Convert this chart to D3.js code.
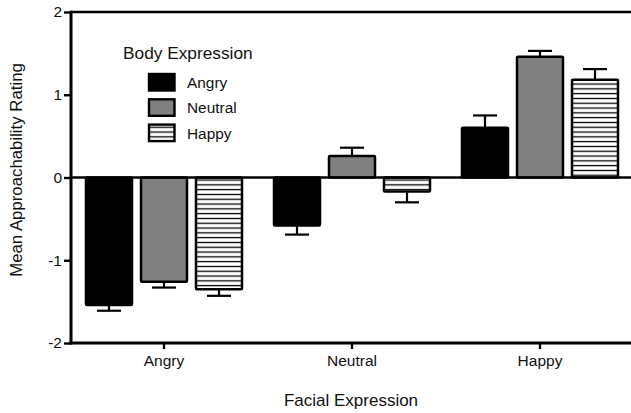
<!DOCTYPE html>
<html><head><meta charset="utf-8">
<script src="https://cdn.jsdelivr.net/npm/d3@7"></script>
<style>body{margin:0;background:#fff}svg{display:block;font-family:"Liberation Sans",Arial,sans-serif}</style>
</head><body><svg id="c" width="631" height="413"></svg>
<script>
const categories = ["Angry", "Neutral", "Happy"];
const series = ["Angry", "Neutral", "Happy"];
const angryBody = [-1.54, -0.58, 0.60];
const neutralBody = [-1.26, 0.26, 1.46];
const happyBody = [-1.35, -0.17, 1.18];
const angryErr = [0.07, 0.11, 0.15];
const neutralErr = [0.07, 0.10, 0.07];
const happyErr = [0.08, 0.13, 0.13];
const yTicks = [-2, -1, 0, 1, 2];

(function () {
const values = [angryBody, neutralBody, happyBody];
const errs = [angryErr, neutralErr, happyErr];
const fills = ["#000", "#808080", "url(#stripes)"];
const FONT = "Liberation Sans, Arial, sans-serif";
const TXT = "#111";

const svg = d3.select("#c");
const defs = svg.append("defs");
const pat = defs.append("pattern").attr("id", "stripes").attr("patternUnits", "userSpaceOnUse")
  .attr("width", 10).attr("height", 4.8);
pat.append("rect").attr("width", 10).attr("height", 4.8).attr("fill", "#fff");
pat.append("rect").attr("y", 1.8).attr("width", 10).attr("height", 1.3).attr("fill", "#000");

const mLeft = 71, mRight = 634, mTop = 12, mBottom = 343;
const x0 = d3.scaleBand().domain(categories).range([70, 634]);
const x1 = d3.scaleBand().domain(series).range([11.5, 176.5]).paddingInner(0.1636).paddingOuter(0.0818);
const y = d3.scaleLinear().domain([-2, 2]).range([mBottom, mTop]);

series.forEach((s, si) => {
  const g = svg.append("g");
  categories.forEach((c, ci) => {
    const v = values[si][ci], e = errs[si][ci];
    const bx = x0(c) + x1(s), bw = x1.bandwidth();
    const cx = bx + bw / 2;
    const yEnd = y(v + (v >= 0 ? e : -e));
    g.append("line").attr("x1", cx).attr("x2", cx).attr("y1", y(v)).attr("y2", yEnd)
      .attr("stroke", "#000").attr("stroke-width", 2.2);
    g.append("line").attr("x1", cx - 12).attr("x2", cx + 12).attr("y1", yEnd).attr("y2", yEnd)
      .attr("stroke", "#000").attr("stroke-width", 2.2);
    g.append("rect").attr("x", bx).attr("width", bw)
      .attr("y", Math.min(y(v), y(0))).attr("height", Math.abs(y(v) - y(0)))
      .attr("fill", fills[si]).attr("stroke", "#000").attr("stroke-width", 2.5)
      .attr("rx", 1);
  });
});

svg.append("line").attr("x1", mLeft).attr("x2", mRight).attr("y1", y(0)).attr("y2", y(0))
  .attr("stroke", "#000").attr("stroke-width", 2.6);
svg.append("line").attr("x1", mLeft).attr("x2", mRight).attr("y1", mTop).attr("y2", mTop)
  .attr("stroke", "#000").attr("stroke-width", 2.6);

const ya = svg.append("g").attr("transform", `translate(${mLeft},0)`)
  .call(d3.axisLeft(y).tickValues(yTicks).tickFormat(d => String(d)).tickSize(7).tickSizeOuter(0).tickPadding(2));
ya.select(".domain").attr("stroke-width", 3).attr("d", `M0,${mTop - 1.3}V${mBottom + 1.5}`);
ya.selectAll(".tick line").attr("stroke-width", 2.4);
ya.selectAll(".tick text").attr("font-size", 15.5).attr("fill", TXT).attr("font-family", FONT);

const xa = svg.append("g").attr("transform", `translate(0,${mBottom})`)
  .call(d3.axisBottom(x0).tickSize(6).tickSizeOuter(0).tickPadding(6));
xa.select(".domain").attr("stroke-width", 3).attr("d", `M${mLeft - 1.5},0H${mRight}`);
xa.selectAll(".tick line").attr("stroke-width", 2.4);
xa.selectAll(".tick text").attr("font-size", 15.5).attr("fill", TXT).attr("font-family", FONT);

svg.append("text").attr("transform", `translate(22,170) rotate(-90)`).attr("text-anchor", "middle")
  .attr("font-size", 16.8).attr("fill", TXT).text("Mean Approachability Rating");
svg.append("text").attr("x", 351).attr("y", 406).attr("text-anchor", "middle")
  .attr("font-size", 17).attr("fill", TXT).text("Facial Expression");

const leg = svg.append("g");
leg.append("text").attr("x", 123).attr("y", 59).attr("font-size", 17.3).attr("fill", TXT).text("Body Expression");
series.forEach((s, i) => {
  const ly = 74 + i * 25.3;
  leg.append("rect").attr("x", 149).attr("y", ly).attr("width", 25.5).attr("height", 16.5)
    .attr("fill", fills[i]).attr("stroke", "#000").attr("stroke-width", 2.4);
  leg.append("text").attr("x", 187).attr("y", ly + 14).attr("font-size", 15.4).attr("fill", TXT).text(s);
});
})();
</script></body></html>
